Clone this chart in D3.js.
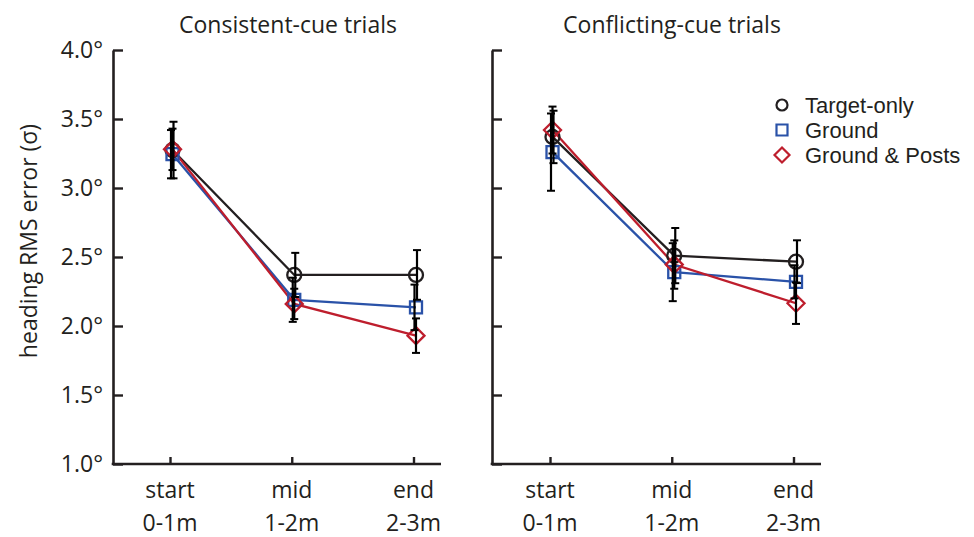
<!DOCTYPE html>
<html>
<head>
<meta charset="utf-8">
<script src="https://cdn.jsdelivr.net/npm/d3@7"></script>
<style>
  html, body { margin: 0; padding: 0; background: #fff; }
  svg { display: block; }
  text { font-family: "Open Sans", "DejaVu Sans", sans-serif; fill: #231f20; }
  text.legend-label { font-family: "Liberation Sans", Arial, sans-serif; }
</style>
</head>
<body>
<svg id="chart" width="974" height="537"></svg>
<script>
// ---- data ----
const categories = ["start", "mid", "end"];
const categoryRanges = ["0-1m", "1-2m", "2-3m"];
const panelTitles = ["Consistent-cue trials", "Conflicting-cue trials"];
const seriesNames = ["Target-only", "Ground", "Ground & Posts"];
const yTicks = [1.0, 1.5, 2.0, 2.5, 3.0, 3.5, 4.0];
const yLabel = "heading RMS error (\u03C3)";

// Consistent-cue trials
const consistentTarget = [3.275, 2.37, 2.37];
const consistentTargetErr = [0.205, 0.16, 0.18];
const consistentGround = [3.245, 2.19, 2.135];
const consistentGroundErr = [0.175, 0.16, 0.165];
const consistentPosts = [3.28, 2.16, 1.93];
const consistentPostsErr = [0.15, 0.11, 0.125];

// Conflicting-cue trials
const conflictTarget = [3.37, 2.51, 2.466];
const conflictTargetErr = [0.19, 0.20, 0.155];
const conflictGround = [3.26, 2.39, 2.32];
const conflictGroundErr = [0.28, 0.21, 0.12];
const conflictPosts = [3.42, 2.445, 2.165];
const conflictPostsErr = [0.17, 0.175, 0.15];

// ---- styling ----
const INK = "#231f20";
const colors = ["#231f20", "#2a52a8", "#be1e2d"];
const shapes = ["circle", "square", "diamond"];

const svg = d3.select("#chart");

const y = d3.scaleLinear().domain([1, 4]).range([464, 50]);

const panels = [
  { title: panelTitles[0], axisX0: 113, axisX1: 441, range: [170, 413.5], titleX: 288, labels: true,
    series: [
      { vals: consistentTarget, err: consistentTargetErr },
      { vals: consistentGround, err: consistentGroundErr },
      { vals: consistentPosts, err: consistentPostsErr }
    ] },
  { title: panelTitles[1], axisX0: 492, axisX1: 821, range: [550, 793.5], titleX: 672, labels: false,
    series: [
      { vals: conflictTarget, err: conflictTargetErr },
      { vals: conflictGround, err: conflictGroundErr },
      { vals: conflictPosts, err: conflictPostsErr }
    ] }
];

const dataShift = 2.5;          // markers sit slightly right of the ticks in the original
const errOffsets = [1, -1.5, 0]; // small horizontal jitter of the error bars

function markerPath(shape, size) {
  if (shape === "square") {
    const h = size;
    return `M${-h},${-h}H${h}V${h}H${-h}Z`;
  }
  if (shape === "diamond") {
    const h = size;
    return `M0,${-h}L${h},0L0,${h}L${-h},0Z`;
  }
  return null;
}

function drawMarker(g, shape, color, cx, cy, s) {
  if (shape === "circle") {
    g.append("circle").attr("cx", cx).attr("cy", cy).attr("r", s.r)
      .attr("fill", "none").attr("stroke", color).attr("stroke-width", s.sw);
  } else {
    g.append("path").attr("d", markerPath(shape, shape === "square" ? s.sq : s.di))
      .attr("transform", `translate(${cx},${cy})`)
      .attr("fill", "none").attr("stroke", color).attr("stroke-width", s.sw);
  }
}

panels.forEach(p => {
  const x = d3.scalePoint().domain(categories).range(p.range);
  const g = svg.append("g");

  // title
  g.append("text").attr("x", p.titleX).attr("y", 33).attr("text-anchor", "middle")
    .style("font-size", "23px").text(p.title);

  // y axis
  const yAxis = d3.axisLeft(y).tickValues(yTicks).tickSizeInner(-10).tickSizeOuter(0).tickPadding(10)
    .tickFormat(p.labels ? (d => d3.format(".1f")(d) + "\u00B0") : "");
  const ya = g.append("g").attr("transform", `translate(${p.axisX0},0)`).call(yAxis);
  ya.select(".domain").attr("stroke", INK).attr("stroke-width", 2.6);
  ya.selectAll(".tick line").attr("stroke", INK).attr("stroke-width", 2.4);
  ya.selectAll(".tick text").style("font-size", "23px").attr("fill", INK).attr("font-family", null);

  // x axis
  const xAxis = d3.axisBottom(x).tickSizeInner(-7).tickSizeOuter(0).tickFormat("");
  const xa = g.append("g").attr("transform", `translate(0,${y(1)})`).call(xAxis);
  xa.select(".domain").remove();
  xa.selectAll(".tick line").attr("stroke", INK).attr("stroke-width", 2.4);
  g.append("line").attr("x1", p.axisX0 - 1.3).attr("x2", p.axisX1).attr("y1", y(1)).attr("y2", y(1))
    .attr("stroke", INK).attr("stroke-width", 2.6);

  categories.forEach((c, i) => {
    const t = g.append("text").attr("text-anchor", "middle").style("font-size", "23px");
    t.append("tspan").attr("x", x(c)).attr("y", 498).text(c);
    t.append("tspan").attr("x", x(c)).attr("y", 531).text(categoryRanges[i]);
  });

  const dg = g.append("g").attr("transform", `translate(${dataShift},0)`);

  // lines
  const line = d3.line().x((d, i) => x(categories[i])).y(d => y(d));
  p.series.forEach((s, k) => {
    dg.append("path").datum(s.vals).attr("d", line)
      .attr("fill", "none").attr("stroke", colors[k]).attr("stroke-width", 2.3);
  });

  // markers
  p.series.forEach((s, k) => {
    s.vals.forEach((v, i) => {
      drawMarker(dg, shapes[k], colors[k], x(categories[i]), y(v), { r: 7, sq: 6, di: 8.5, sw: 2.3 });
    });
  });

  // error bars
  p.series.forEach((s, k) => {
    s.vals.forEach((v, i) => {
      const cx = x(categories[i]) + errOffsets[k];
      const y0 = y(v - s.err[i]), y1 = y(v + s.err[i]);
      dg.append("line").attr("x1", cx).attr("x2", cx).attr("y1", y0).attr("y2", y1)
        .attr("stroke", "#000").attr("stroke-width", 2.2);
      [y0, y1].forEach(yy => {
        dg.append("line").attr("x1", cx - 4).attr("x2", cx + 4).attr("y1", yy).attr("y2", yy)
          .attr("stroke", "#000").attr("stroke-width", 2);
      });
    });
  });
});

// y label
svg.append("text").attr("transform", "translate(37,241) rotate(-90)").attr("text-anchor", "middle")
  .style("font-size", "23px").text(yLabel);

// legend
const legend = svg.append("g");
seriesNames.forEach((name, k) => {
  const ly = 105 + k * 25;
  drawMarker(legend, shapes[k], colors[k], 782, ly, { r: 5.5, sq: 5.5, di: 7.5, sw: 2.2 });
  legend.append("text").attr("class", "legend-label").attr("x", 805).attr("y", ly + 8)
    .style("font-size", "22px").text(name);
});
</script>
</body>
</html>
